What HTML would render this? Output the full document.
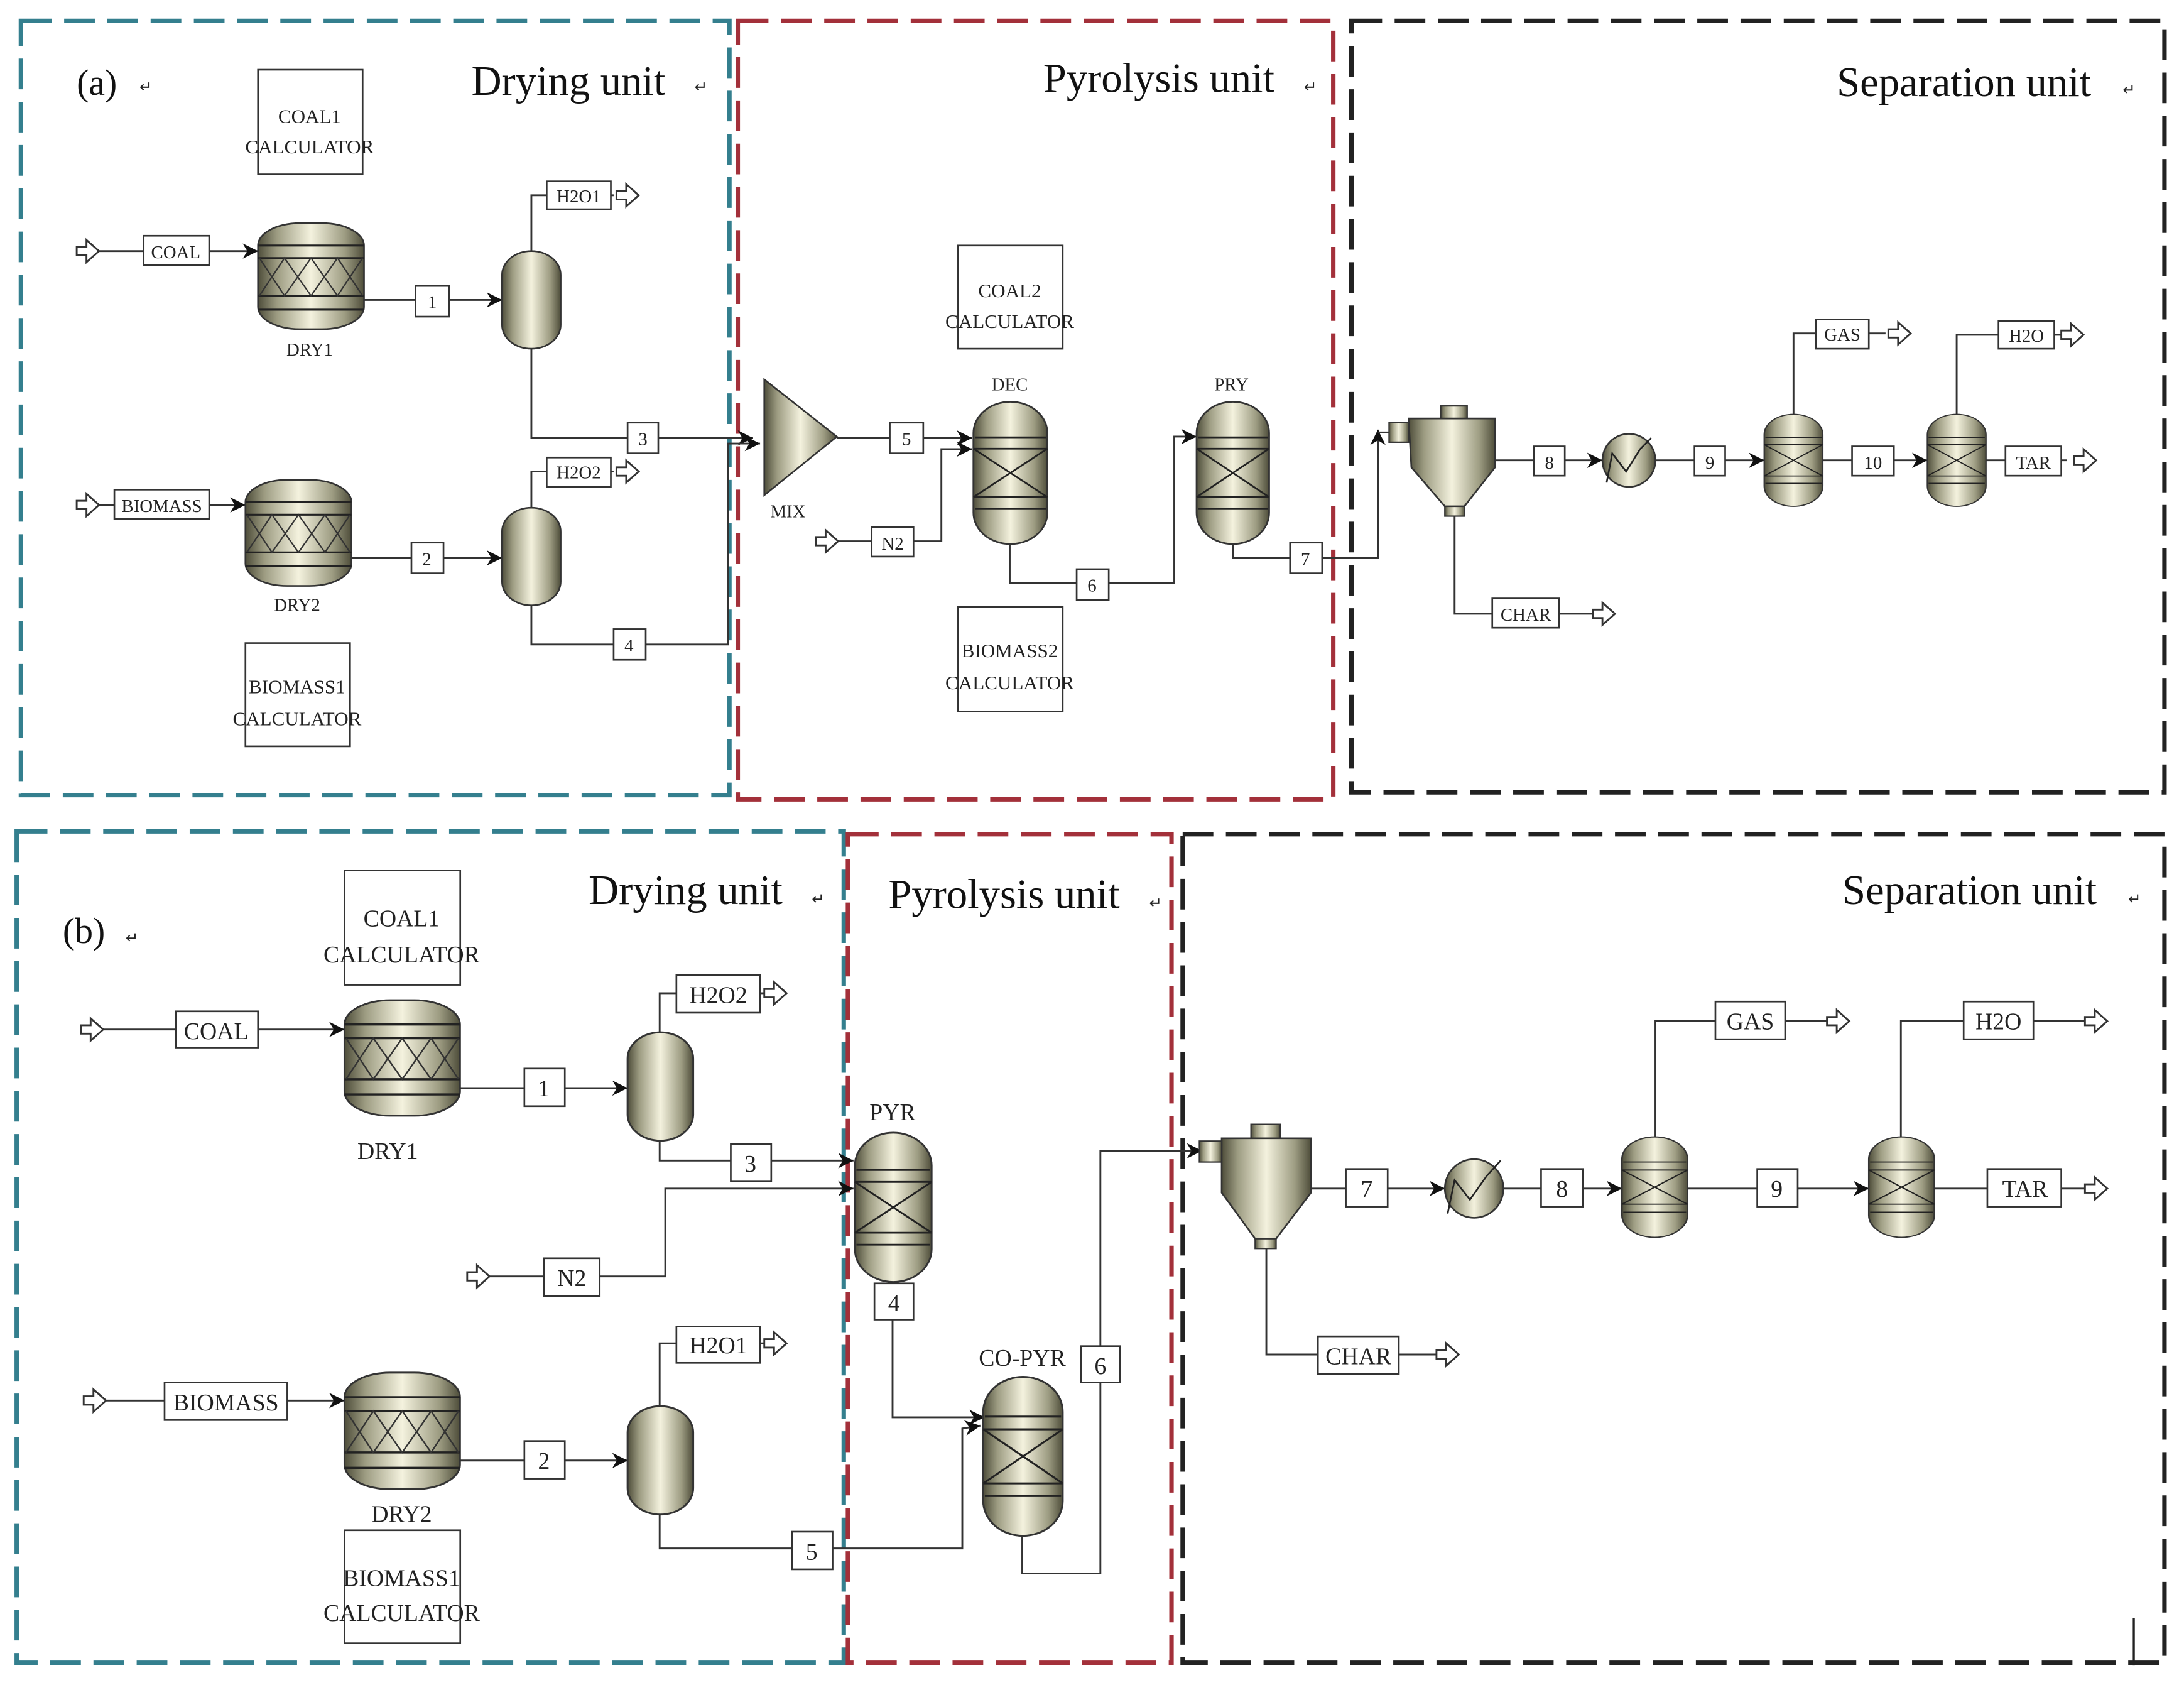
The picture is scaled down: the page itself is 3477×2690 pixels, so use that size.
<!DOCTYPE html>
<html><head><meta charset="utf-8"><style>
html,body{margin:0;padding:0;background:#fff;}
svg{display:block;}
text{font-family:"Liberation Serif",serif;fill:#222;}
.t{font-size:30px;fill:#111;}
.s{font-size:13px;text-anchor:middle;}
.b{font-size:17px;text-anchor:middle;}
.ln{fill:none;stroke:#333;stroke-width:1.3;}
.bx{fill:#fff;stroke:#333;stroke-width:1.2;}
</style></head><body>
<svg width="3477" height="2690" viewBox="0 0 1566 1211.5" preserveAspectRatio="none" xmlns="http://www.w3.org/2000/svg">
<defs>
<linearGradient id="g" x1="0" y1="0" x2="1" y2="0">
<stop offset="0" stop-color="#4e4d3a"/><stop offset="0.18" stop-color="#9d9c82"/><stop offset="0.5" stop-color="#f4f2de"/><stop offset="0.82" stop-color="#9d9c82"/><stop offset="1" stop-color="#4e4d3a"/>
</linearGradient>
<marker id="ar" viewBox="0 0 10 10" refX="10" refY="5" markerWidth="11" markerHeight="11" markerUnits="userSpaceOnUse" orient="auto">
<path d="M0,0 L10,5 L0,10 L3,5 Z" fill="#111"/></marker>
<symbol id="oa" viewBox="0 -8 16 16" overflow="visible">
<path d="M0,-3 H7 V-8 L16,0 L7,8 V3 H0 Z" fill="#fff" stroke="#333" stroke-width="1.3"/></symbol>
<g id="reac">
<rect x="0" y="0" width="50" height="100" rx="25" ry="22" fill="url(#g)" stroke="#333" stroke-width="1.2"/>
<path d="M1,25 H49 M0,33 H50 M0,67 H50 M1,75 H49 M0,33 L50,67 M50,33 L0,67" stroke="#222" stroke-width="1.2" fill="none"/>
</g>
<g id="dry">
<rect x="0" y="0" width="76" height="76" rx="30" ry="16" fill="url(#g)" stroke="#333" stroke-width="1.2"/>
<path d="M0,16 H76 M0,25 H76 M0,52 H76 M0,62 H76" stroke="#222" stroke-width="1.4" fill="none"/>
<path d="M1,25 L10.5,52 L20,25 L29.5,52 L38,25 L47.5,52 L57,25 L66.5,52 L75,25 M1,52 L10.5,25 L20,52 L29.5,25 L38,52 L47.5,25 L57,52 L66.5,25 L75,52" stroke="#333" stroke-width="0" fill="none"/>
<path d="M1,25 L10,38.5 L19,52 L28.5,38.5 L38,25 L47.5,38.5 L57,52 L66,38.5 L75,25 M1,52 L19,25 L38,52 L57,25 L75,52" stroke="#333" stroke-width="1" fill="none"/>
</g>
<g id="fl"><rect x="0" y="0" width="42" height="70" rx="21" ry="17" fill="url(#g)" stroke="#333" stroke-width="1.2"/></g>
</defs>

<g fill="none" stroke-width="3.2" stroke-dasharray="22,9">
<rect x="15" y="15" width="508" height="555" stroke="#347f8e"/>
<rect x="529" y="15" width="427" height="558" stroke="#a3303a"/>
<rect x="969" y="15" width="583" height="553" stroke="#222"/>
<rect x="12" y="596" width="593" height="596" stroke="#347f8e"/>
<rect x="608" y="598" width="232" height="594" stroke="#a3303a"/>
<rect x="848" y="598" width="704" height="594" stroke="#222"/>
</g>

<text class="t" x="55" y="68" style="font-size:26px">(a)</text><text x="100" y="66" style="font-size:11px">↵</text>
<text class="t" x="338" y="68">Drying unit</text><text x="498" y="66" style="font-size:11px">↵</text>
<text class="t" x="748" y="66">Pyrolysis unit</text><text x="935" y="66" style="font-size:11px">↵</text>
<text class="t" x="1317" y="69">Separation unit</text><text x="1522" y="68" style="font-size:11px">↵</text>
<text class="t" x="45" y="676" style="font-size:26px">(b)</text><text x="90" y="676" style="font-size:11px">↵</text>
<text class="t" x="422" y="648">Drying unit</text><text x="582" y="648" style="font-size:11px">↵</text>
<text class="t" x="637" y="651">Pyrolysis unit</text><text x="824" y="651" style="font-size:11px">↵</text>
<text class="t" x="1321" y="648">Separation unit</text><text x="1526" y="648" style="font-size:11px">↵</text>

<rect class="bx" x="185" y="50" width="75" height="75"/>
<text class="s" x="222" y="88" style="font-size:14px">COAL1</text><text class="s" x="222" y="110" style="font-size:14px">CALCULATOR</text>
<rect class="bx" x="687" y="176" width="75" height="74"/>
<text class="s" x="724" y="213" style="font-size:14px">COAL2</text><text class="s" x="724" y="235" style="font-size:14px">CALCULATOR</text>
<rect class="bx" x="687" y="435" width="75" height="75"/>
<text class="s" x="724" y="471" style="font-size:14px">BIOMASS2</text><text class="s" x="724" y="494" style="font-size:14px">CALCULATOR</text>
<rect class="bx" x="176" y="461" width="75" height="74"/>
<text class="s" x="213" y="497" style="font-size:14px">BIOMASS1</text><text class="s" x="213" y="520" style="font-size:14px">CALCULATOR</text>

<path class="ln" d="M70,180 H103 M150,180 H185" marker-end="url(#ar)"/>
<path class="ln" d="M260,215 H360" marker-end="url(#ar)"/>
<path class="ln" d="M381,180 V140 H440"/>
<path class="ln" d="M381,248 V314 H540" marker-end="url(#ar)"/>
<path class="ln" d="M70,362 H176" marker-end="url(#ar)"/>
<path class="ln" d="M252,400 H360" marker-end="url(#ar)"/>
<path class="ln" d="M381,365 V338 H440"/>
<path class="ln" d="M381,432 V462 H522 V318 L545,318" marker-end="url(#ar)"/>
<path class="ln" d="M600,314 H697" marker-end="url(#ar)"/>
<path class="ln" d="M600,388 H675 V322 H697" marker-end="url(#ar)"/>
<path class="ln" d="M724,390 V418 H842 V313 H858" marker-end="url(#ar)"/>
<path class="ln" d="M884,390 V400 H988 V308" marker-end="url(#ar)"/>
<path class="ln" d="M988,310 H996"/>
<path class="ln" d="M1072,330 H1149" marker-end="url(#ar)"/>
<path class="ln" d="M1187,330 H1265" marker-end="url(#ar)"/>
<path class="ln" d="M1286,297 V239 H1352"/>
<path class="ln" d="M1307,330 H1382" marker-end="url(#ar)"/>
<path class="ln" d="M1403,297 V240 H1482"/>
<path class="ln" d="M1424,330 H1482"/>
<path class="ln" d="M1043,370 V440 H1142"/>

<use href="#dry" transform="translate(185,160)"/>
<use href="#dry" transform="translate(176,344)"/>
<use href="#fl" transform="translate(360,180)"/>
<use href="#fl" transform="translate(360,364)"/>
<path d="M548,272 L548,355 L600,313 Z" fill="url(#g)" stroke="#333" stroke-width="1.2"/>
<use href="#reac" transform="translate(698,288) scale(1.06,1.02)"/>
<use href="#reac" transform="translate(858,288) scale(1.04,1.02)"/>
<rect x="1033" y="291" width="19" height="9" fill="url(#g)" stroke="#333"/>
<path d="M1010,300 H1072 V335 L1050,363 H1036 L1012,335 Z" fill="url(#g)" stroke="#333" stroke-width="1.2"/>
<rect x="1036" y="363" width="14" height="7" fill="url(#g)" stroke="#333"/>
<rect x="996" y="303" width="14" height="14" fill="url(#g)" stroke="#333"/>
<circle cx="1168" cy="330" r="19" fill="url(#g)" stroke="#333" stroke-width="1.2"/>
<path d="M1152,346 L1156,325 L1166,338 L1176,322 L1184,314" stroke="#222" stroke-width="1.2" fill="none"/>
<use href="#reac" transform="translate(1265,297) scale(0.84,0.66)"/>
<use href="#reac" transform="translate(1382,297) scale(0.84,0.66)"/>

<use href="#oa" x="55" y="172" width="16" height="16"/>
<use href="#oa" x="55" y="354" width="16" height="16"/>
<use href="#oa" x="585" y="380" width="16" height="16"/>
<use href="#oa" x="442" y="132" width="16" height="16"/>
<use href="#oa" x="442" y="330" width="16" height="16"/>
<use href="#oa" x="1354" y="231" width="16" height="16"/>
<use href="#oa" x="1478" y="232" width="16" height="16"/>
<use href="#oa" x="1487" y="322" width="16" height="16"/>
<use href="#oa" x="1142" y="432" width="16" height="16"/>
<rect class="bx" x="103" y="169" width="47" height="21"/><text class="s" x="126" y="185">COAL</text>
<rect class="bx" x="82" y="351" width="68" height="21"/><text class="s" x="116" y="367">BIOMASS</text>
<rect class="bx" x="392" y="130" width="46" height="20"/><text class="s" x="415" y="145">H2O1</text>
<rect class="bx" x="392" y="328" width="46" height="21"/><text class="s" x="415" y="343">H2O2</text>
<rect class="bx" x="298" y="205" width="24" height="22"/><text class="s" x="310" y="221">1</text>
<rect class="bx" x="295" y="389" width="23" height="22"/><text class="s" x="306" y="405">2</text>
<rect class="bx" x="450" y="303" width="22" height="22"/><text class="s" x="461" y="319">3</text>
<rect class="bx" x="440" y="451" width="23" height="22"/><text class="s" x="451" y="467">4</text>
<rect class="bx" x="638" y="303" width="24" height="22"/><text class="s" x="650" y="319">5</text>
<rect class="bx" x="625" y="378" width="30" height="21"/><text class="s" x="640" y="394">N2</text>
<rect class="bx" x="772" y="408" width="23" height="22"/><text class="s" x="783" y="424">6</text>
<rect class="bx" x="925" y="389" width="23" height="22"/><text class="s" x="936" y="405">7</text>
<rect class="bx" x="1100" y="320" width="22" height="21"/><text class="s" x="1111" y="336">8</text>
<rect class="bx" x="1215" y="320" width="22" height="21"/><text class="s" x="1226" y="336">9</text>
<rect class="bx" x="1328" y="320" width="30" height="21"/><text class="s" x="1343" y="336">10</text>
<rect class="bx" x="1302" y="229" width="38" height="21"/><text class="s" x="1321" y="244">GAS</text>
<rect class="bx" x="1433" y="230" width="40" height="20"/><text class="s" x="1453" y="245">H2O</text>
<rect class="bx" x="1438" y="320" width="40" height="21"/><text class="s" x="1458" y="336">TAR</text>
<rect class="bx" x="1070" y="429" width="48" height="21"/><text class="s" x="1094" y="445">CHAR</text>
<text class="s" x="222" y="255">DRY1</text>
<text class="s" x="213" y="438">DRY2</text>
<text class="s" x="565" y="371">MIX</text>
<text class="s" x="724" y="280">DEC</text>
<text class="s" x="883" y="280">PRY</text>

<rect class="bx" x="247" y="624" width="83" height="82"/>
<text class="b" x="288" y="664">COAL1</text><text class="b" x="288" y="690">CALCULATOR</text>
<rect class="bx" x="247" y="1097" width="83" height="81"/>
<text class="b" x="288" y="1137">BIOMASS1</text><text class="b" x="288" y="1162">CALCULATOR</text>

<path class="ln" d="M74,738 H247" marker-end="url(#ar)"/>
<path class="ln" d="M330,780 H450" marker-end="url(#ar)"/>
<path class="ln" d="M473,741 V712 H550"/>
<path class="ln" d="M473,818 V832 H612" marker-end="url(#ar)"/>
<path class="ln" d="M351,915 H477 V852 H612" marker-end="url(#ar)"/>
<path class="ln" d="M76,1004 H247" marker-end="url(#ar)"/>
<path class="ln" d="M330,1047 H450" marker-end="url(#ar)"/>
<path class="ln" d="M473,1010 V963 H550"/>
<path class="ln" d="M473,1085 V1110 H690 V1024 L703,1022" marker-end="url(#ar)"/>
<path class="ln" d="M640,946 V1016 H706" marker-end="url(#ar)"/>
<path class="ln" d="M733,1100 V1128 H789 V825 H862" marker-end="url(#ar)"/>
<path class="ln" d="M940,852 H1036" marker-end="url(#ar)"/>
<path class="ln" d="M1078,852 H1163" marker-end="url(#ar)"/>
<path class="ln" d="M1187,815 V732 H1312"/>
<path class="ln" d="M1210,852 H1340" marker-end="url(#ar)"/>
<path class="ln" d="M1363,815 V732 H1497"/>
<path class="ln" d="M1387,852 H1497"/>
<path class="ln" d="M908,895 V971 H1032"/>

<use href="#dry" transform="translate(247,717) scale(1.09,1.09)"/>
<use href="#dry" transform="translate(247,984) scale(1.09,1.1)"/>
<use href="#fl" transform="translate(450,740) scale(1.12,1.11)"/>
<use href="#fl" transform="translate(450,1008) scale(1.12,1.11)"/>
<use href="#reac" transform="translate(613,812) scale(1.1,1.07)"/>
<use href="#reac" transform="translate(705,987) scale(1.14,1.14)"/>
<rect x="897" y="806" width="21" height="10" fill="url(#g)" stroke="#333"/>
<path d="M876,816 H940 V855 L915,888 H900 L876,855 Z" fill="url(#g)" stroke="#333" stroke-width="1.2"/>
<rect x="900" y="888" width="15" height="7" fill="url(#g)" stroke="#333"/>
<rect x="860" y="818" width="16" height="15" fill="url(#g)" stroke="#333"/>
<circle cx="1057" cy="852" r="21" fill="url(#g)" stroke="#333" stroke-width="1.2"/>
<path d="M1038,870 L1043,846 L1054,860 L1066,843 L1076,832" stroke="#222" stroke-width="1.2" fill="none"/>
<use href="#reac" transform="translate(1163,815) scale(0.94,0.72)"/>
<use href="#reac" transform="translate(1340,815) scale(0.94,0.72)"/>

<use href="#oa" x="58" y="730" width="16" height="16"/>
<use href="#oa" x="60" y="996" width="16" height="16"/>
<use href="#oa" x="335" y="907" width="16" height="16"/>
<use href="#oa" x="548" y="704" width="16" height="16"/>
<use href="#oa" x="548" y="955" width="16" height="16"/>
<use href="#oa" x="1310" y="724" width="16" height="16"/>
<use href="#oa" x="1495" y="724" width="16" height="16"/>
<use href="#oa" x="1495" y="844" width="16" height="16"/>
<use href="#oa" x="1030" y="963" width="16" height="16"/>
<rect class="bx" x="126" y="725" width="59" height="26"/><text class="b" x="155" y="745">COAL</text>
<rect class="bx" x="118" y="991" width="88" height="27"/><text class="b" x="162" y="1011">BIOMASS</text>
<rect class="bx" x="485" y="699" width="60" height="27"/><text class="b" x="515" y="719">H2O2</text>
<rect class="bx" x="485" y="951" width="60" height="26"/><text class="b" x="515" y="970">H2O1</text>
<rect class="bx" x="376" y="766" width="29" height="27"/><text class="b" x="390" y="786">1</text>
<rect class="bx" x="376" y="1033" width="29" height="27"/><text class="b" x="390" y="1053">2</text>
<rect class="bx" x="524" y="820" width="29" height="27"/><text class="b" x="538" y="840">3</text>
<rect class="bx" x="627" y="920" width="28" height="26"/><text class="b" x="641" y="940">4</text>
<rect class="bx" x="568" y="1098" width="29" height="27"/><text class="b" x="582" y="1118">5</text>
<rect class="bx" x="775" y="965" width="28" height="26"/><text class="b" x="789" y="985">6</text>
<rect class="bx" x="390" y="902" width="40" height="27"/><text class="b" x="410" y="922">N2</text>
<rect class="bx" x="965" y="838" width="30" height="27"/><text class="b" x="980" y="858">7</text>
<rect class="bx" x="1105" y="838" width="30" height="27"/><text class="b" x="1120" y="858">8</text>
<rect class="bx" x="1260" y="838" width="29" height="27"/><text class="b" x="1274" y="858">9</text>
<rect class="bx" x="1230" y="718" width="50" height="27"/><text class="b" x="1255" y="738">GAS</text>
<rect class="bx" x="1408" y="718" width="50" height="27"/><text class="b" x="1433" y="738">H2O</text>
<rect class="bx" x="1425" y="838" width="53" height="27"/><text class="b" x="1452" y="858">TAR</text>
<rect class="bx" x="945" y="958" width="58" height="27"/><text class="b" x="974" y="978">CHAR</text>
<text class="b" x="278" y="831">DRY1</text>
<text class="b" x="288" y="1091">DRY2</text>
<text class="b" x="640" y="803">PYR</text>
<text class="b" x="733" y="979">CO-PYR</text>
<path d="M1530,1160 V1194" stroke="#222" stroke-width="1.5"/>
</svg>
</body></html>
